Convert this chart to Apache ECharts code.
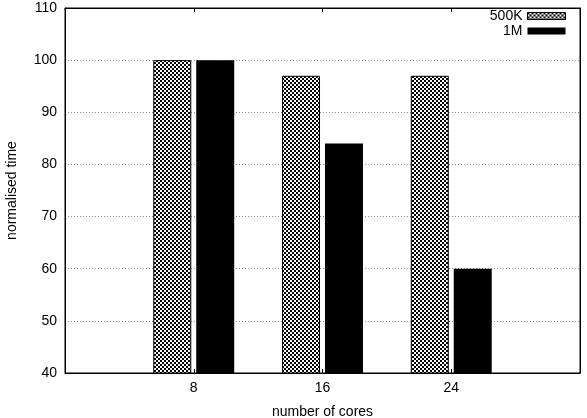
<!DOCTYPE html>
<html lang="en">
<head>
    <meta charset="UTF-8">
    <title>normalised time</title>
    <style>
        html, body { margin: 0; padding: 0; background: #fff; }
        #chart { width: 587px; height: 418px; }
    </style>
</head>
<body>
    <div id="chart"></div>
</body>
<script src="https://cdn.jsdelivr.net/npm/echarts@6/dist/echarts.min.js"></script>
<script type="text/javascript">
    // data
    var cores = ['', '8', '16', '24', ''];
    var series500K = [null, 100, 97, 97, null];
    var series1M = [null, 100, 84, 60, null];
    var yTicks = [40, 50, 60, 70, 80, 90, 100, 110];

    // small checker canvas for the 500K fill
    function checker() {
        var c = document.createElement('canvas');
        c.width = 4; c.height = 4;
        var ctx = c.getContext('2d');
        ctx.fillStyle = '#fff';
        ctx.fillRect(0, 0, 4, 4);
        ctx.fillStyle = '#000';
        ctx.fillRect(0, 0, 2, 2);
        ctx.fillRect(2, 2, 2, 2);
        return c;
    }
    var hatch = { image: checker(), repeat: 'repeat' };

    var font = 'Liberation Sans, Arial, sans-serif';
    var myChart = echarts.init(document.getElementById('chart'));

    myChart.setOption({
        animation: false,
        textStyle: { fontFamily: font },
        grid: {
            left: 65, right: 7, top: 8, bottom: 45,
            outerBoundsMode: 'none',
            show: true, borderColor: '#000', borderWidth: 1
        },
        legend: {
            orient: 'vertical',
            right: 16, top: 4,
            align: 'right',
            icon: 'rect',
            itemWidth: 38, itemHeight: 7, itemGap: 1,
            textStyle: { fontSize: 14, color: '#000', fontFamily: font, padding: [0, 0, 0, 0] },
            data: [
                { name: '500K', itemStyle: { color: hatch, borderColor: '#000', borderWidth: 1 } },
                { name: '1M', itemStyle: { color: '#000' } }
            ]
        },
        xAxis: [{
            type: 'category',
            data: cores,
            boundaryGap: false,
            name: 'number of cores',
            nameLocation: 'middle',
            nameGap: 32,
            nameTextStyle: { fontSize: 14, color: '#000' },
            axisLine: { lineStyle: { color: '#000' } },
            axisTick: {
                inside: true, length: 4, lineStyle: { color: '#000' },
                interval: function (i) { return i > 0 && i < 4; }
            },
            axisLabel: { fontSize: 14, color: '#000', margin: 8 },
            splitLine: { show: false }
        }, {
            type: 'category',
            data: cores,
            boundaryGap: false,
            position: 'top',
            axisLine: { lineStyle: { color: '#000' } },
            axisTick: {
                inside: true, length: 4, lineStyle: { color: '#000' },
                interval: function (i) { return i > 0 && i < 4; }
            },
            axisLabel: { show: false }
        }],
        yAxis: [{
            type: 'value',
            min: yTicks[0], max: yTicks[yTicks.length - 1], interval: 10,
            name: 'normalised time',
            nameLocation: 'middle',
            nameGap: 46,
            nameTextStyle: { fontSize: 14, color: '#000' },
            axisLine: { show: true, lineStyle: { color: '#000' } },
            axisTick: { inside: true, length: 4, lineStyle: { color: '#000' } },
            axisLabel: { fontSize: 14, color: '#000', margin: 8 },
            splitLine: { show: true, lineStyle: { color: '#888', type: [1, 2], width: 1 } }
        }, {
            type: 'value',
            min: yTicks[0], max: yTicks[yTicks.length - 1], interval: 10,
            position: 'right',
            axisLine: { show: true, lineStyle: { color: '#000' } },
            axisTick: { inside: true, length: 4, lineStyle: { color: '#000' } },
            axisLabel: { show: false },
            splitLine: { show: false }
        }],
        series: [{
            name: '500K',
            type: 'bar',
            barWidth: 38,
            barGap: '13%',
            itemStyle: { color: hatch, borderColor: '#000', borderWidth: 1 },
            data: series500K
        }, {
            name: '1M',
            type: 'bar',
            barWidth: 38,
            barGap: '13%',
            itemStyle: { color: '#000' },
            data: series1M
        }]
    });
</script>
</html>
